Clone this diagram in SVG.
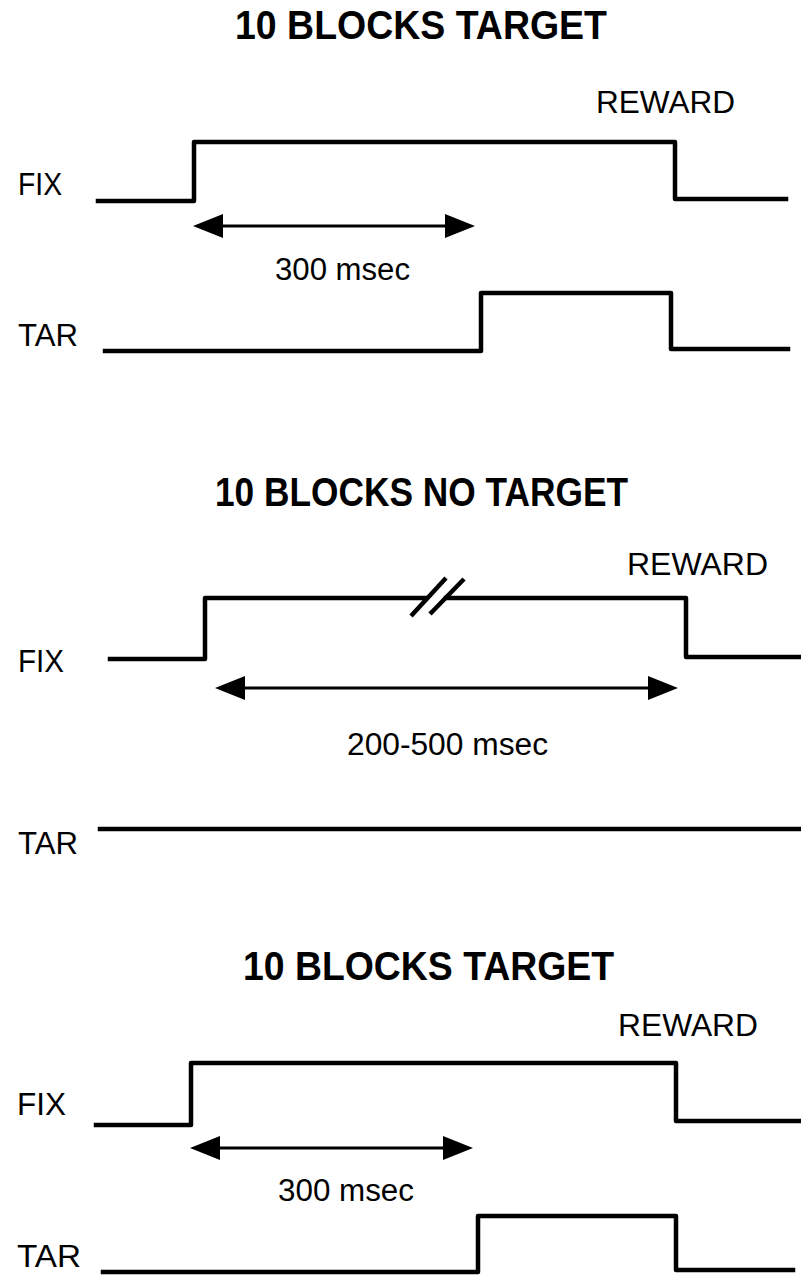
<svg xmlns="http://www.w3.org/2000/svg" width="801" height="1283" viewBox="0 0 801 1283">
<style>
text{font-family:"Liberation Sans",Arial,Helvetica,sans-serif;fill:#000}
.title{font-size:40px;font-weight:bold}
.lbl{font-size:31px}
.dur{font-size:31px}
.sig{fill:none;stroke:#000;stroke-width:4.5;stroke-linejoin:round;stroke-linecap:square}
.arr{fill:none;stroke:#000;stroke-width:2.8}
.brk{stroke:#000;stroke-width:4.5;stroke-linecap:butt}
</style>
<defs>
<marker id="ah" markerUnits="userSpaceOnUse" markerWidth="32" markerHeight="26" refX="20" refY="12" orient="auto-start-reverse" viewBox="0 0 32 26">
<path d="M0,0 L30,12 L0,24 Z" fill="#000"/>
</marker>
</defs>
<rect width="801" height="1283" fill="#fff"/>

<g id="panel1">
<g id="p1-title"><text class="title" x="235" y="39" textLength="372" lengthAdjust="spacingAndGlyphs">10 BLOCKS TARGET</text></g>
<g id="p1-reward"><text class="lbl" x="596" y="113" textLength="139" lengthAdjust="spacingAndGlyphs">REWARD</text></g>
<g id="p1-fix"><text class="lbl" x="18" y="195" textLength="44" lengthAdjust="spacingAndGlyphs">FIX</text>
<path class="sig" d="M98,201 H194 V142 H675 V199 H786"/></g>
<g id="p1-dur"><text class="dur" x="275" y="280" textLength="135" lengthAdjust="spacingAndGlyphs">300 msec</text></g>
<g id="p1-tar"><text class="lbl" x="18" y="346" textLength="60" lengthAdjust="spacingAndGlyphs">TAR</text>
<path class="sig" d="M105,351 H481 V293 H671 V349 H788"/></g>
</g>

<g id="panel2">
<g id="p2-title"><text class="title" x="215" y="506" textLength="413" lengthAdjust="spacingAndGlyphs">10 BLOCKS NO TARGET</text></g>
<g id="p2-reward"><text class="lbl" x="627" y="575" textLength="141" lengthAdjust="spacingAndGlyphs">REWARD</text></g>
<g id="p2-fix"><text class="lbl" x="18" y="672" textLength="46" lengthAdjust="spacingAndGlyphs">FIX</text>
<path class="sig" d="M110,659 H205 V598 H426"/>
<path class="sig" d="M446,598 H686 V657 H801"/>
<line class="brk" x1="411" y1="616" x2="446" y2="578"/>
<line class="brk" x1="430" y1="614" x2="464" y2="579"/></g>
<g id="p2-dur"><text class="dur" x="347" y="755" textLength="201" lengthAdjust="spacingAndGlyphs">200-500 msec</text></g>
<g id="p2-tar"><text class="lbl" x="18" y="854" textLength="60" lengthAdjust="spacingAndGlyphs">TAR</text>
<path class="sig" d="M100,829 H801"/></g>
</g>

<g id="panel3">
<g id="p3-title"><text class="title" x="243" y="980" textLength="371" lengthAdjust="spacingAndGlyphs">10 BLOCKS TARGET</text></g>
<g id="p3-reward"><text class="lbl" x="618" y="1036" textLength="140" lengthAdjust="spacingAndGlyphs">REWARD</text></g>
<g id="p3-fix"><text class="lbl" x="17" y="1115" textLength="49" lengthAdjust="spacingAndGlyphs">FIX</text>
<path class="sig" d="M96,1125 H191 V1063 H676 V1121 H800"/></g>
<g id="p3-dur"><text class="dur" x="278" y="1201" textLength="136" lengthAdjust="spacingAndGlyphs">300 msec</text></g>
<g id="p3-tar"><text class="lbl" x="17" y="1267" textLength="64" lengthAdjust="spacingAndGlyphs">TAR</text>
<path class="sig" d="M103,1272 H478 V1216 H676 V1270 H793"/></g>
</g>

<g id="connectors">
<line class="arr" x1="203" y1="226" x2="465" y2="226" marker-start="url(#ah)" marker-end="url(#ah)"/>
<line class="arr" x1="225" y1="688" x2="668" y2="688" marker-start="url(#ah)" marker-end="url(#ah)"/>
<line class="arr" x1="200" y1="1148" x2="463" y2="1148" marker-start="url(#ah)" marker-end="url(#ah)"/>
</g>
</svg>
